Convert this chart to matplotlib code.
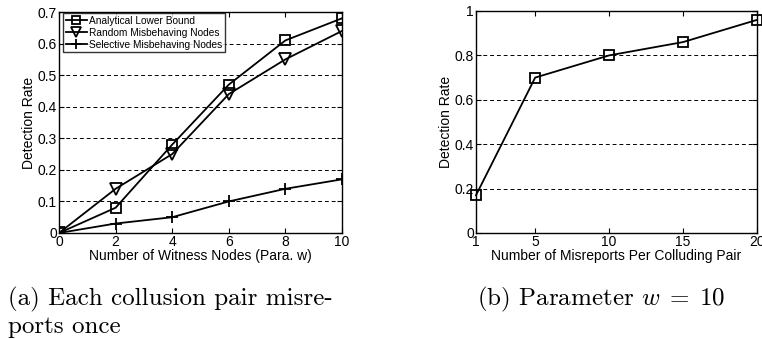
import matplotlib
matplotlib.use("Agg")
import matplotlib.pyplot as plt

plt.rcParams['font.family'] = ['Liberation Sans', 'DejaVu Sans']
plt.rcParams['mathtext.fontset'] = 'cm'

# (a) detection rate vs. number of witness nodes
witness = [0, 2, 4, 6, 8, 10]
analytical = [0.0, 0.08, 0.28, 0.47, 0.61, 0.68]
random_nodes = [0.0, 0.14, 0.25, 0.44, 0.55, 0.64]
selective_nodes = [0.0, 0.03, 0.05, 0.10, 0.14, 0.17]
yticks_a = [0, 0.1, 0.2, 0.3, 0.4, 0.5, 0.6, 0.7]
ylabels_a = ["0", "0.1", "0.2", "0.3", "0.4", "0.5", "0.6", "0.7"]

# (b) detection rate vs. misreports per colluding pair (w = 10)
misreports = [1, 5, 10, 15, 20]
rate_b = [0.17, 0.70, 0.80, 0.86, 0.96]
yticks_b = [0, 0.2, 0.4, 0.6, 0.8, 1.0]
ylabels_b = ["0", "0.2", "0.4", "0.6", "0.8", "1"]

fig = plt.figure(figsize=(7.62, 3.39), dpi=100)
ax1 = fig.add_axes([59 / 762, 1 - 233 / 339, 283 / 762, 221 / 339])
ax2 = fig.add_axes([476 / 762, 1 - 233 / 339, 281 / 762, 222 / 339])

tick_fs = 10
label_fs = 10


def style_axes(ax, yticks, ylabels):
    for s in ax.spines.values():
        s.set_linewidth(1.0)
        s.set_color('black')
    ax.tick_params(direction='in', top=True, right=True, length=3.5,
                   width=0.8, labelsize=tick_fs, pad=1.5, colors='black')
    ax.set_yticks(yticks)
    ax.set_yticklabels(ylabels)
    for y in yticks[1:-1]:
        ax.axhline(y, color='black', lw=0.7, ls=(0, (4, 3)), zorder=1)


lw = 1.3
ax1.plot(witness, analytical, color='black', lw=lw, marker='s', ms=6.5,
         mfc='none', mew=1.3, label='Analytical Lower Bound', zorder=3)
ax1.plot(witness, random_nodes, color='black', lw=lw, marker='v', ms=9,
         mfc='none', mew=1.3, label='Random Misbehaving Nodes', zorder=3)
ax1.plot(witness, selective_nodes, color='black', lw=lw, marker='+', ms=9,
         mew=1.3, label='Selective Misbehaving Nodes', zorder=3)
ax1.set_xlim(0, 10)
ax1.set_ylim(0, 0.7)
ax1.set_xticks(witness)
style_axes(ax1, yticks_a, ylabels_a)
ax1.set_xlabel('Number of Witness Nodes (Para. w)', fontsize=label_fs, labelpad=0)
ax1.set_ylabel('Detection Rate', fontsize=label_fs, labelpad=1)
leg = ax1.legend(loc='upper left', bbox_to_anchor=(4 / 283, 1 - 1 / 221),
                 borderaxespad=0, fontsize=7.3, frameon=True, fancybox=False,
                 edgecolor='black', handlelength=2.1, handletextpad=0.2,
                 borderpad=0.25, labelspacing=0.2, markerscale=0.85)
leg.get_frame().set_linewidth(1.0)

ax2.plot(misreports, rate_b, color='black', lw=lw, marker='s', ms=6.5,
         mfc='none', mew=1.3, zorder=3, clip_on=False)
ax2.set_xlim(1, 20)
ax2.set_ylim(0, 1)
ax2.set_xticks(misreports)
style_axes(ax2, yticks_b, ylabels_b)
ax2.set_xlabel('Number of Misreports Per Colluding Pair', fontsize=label_fs, labelpad=0)
ax2.set_ylabel('Detection Rate', fontsize=label_fs, labelpad=1)

cap_fs = 18
fig.text(8 / 762, 1 - 305 / 339, '(a) Each collusion pair misre-',
         fontsize=cap_fs, family='cmr10', ha='left', va='baseline')
fig.text(8 / 762, 1 - 333 / 339, 'ports once',
         fontsize=cap_fs, family='cmr10', ha='left', va='baseline')
fig.text(477 / 762, 1 - 305 / 339, r'(b) Parameter $w \;=\; 10$',
         fontsize=cap_fs, family='cmr10', ha='left', va='baseline')

fig.savefig('out.png', dpi=100)
